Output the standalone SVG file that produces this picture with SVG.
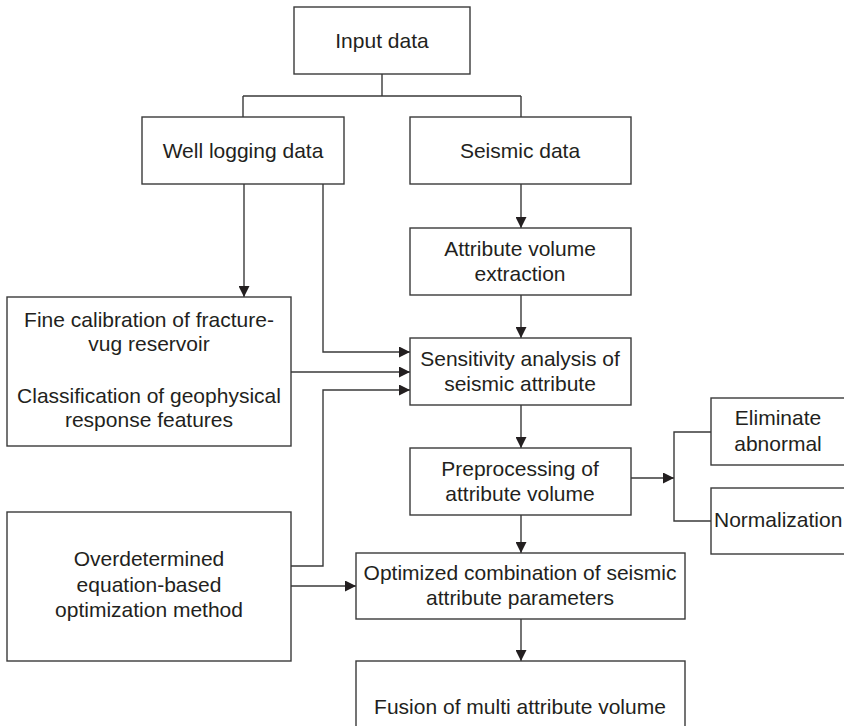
<svg xmlns="http://www.w3.org/2000/svg" width="844" height="726" viewBox="0 0 844 726">
  <style>
    .box { fill: #ffffff; stroke: #3a3a3a; stroke-width: 1.4; }
    .lbl { font-family: "Liberation Sans", Arial, sans-serif; font-size: 21px; fill: #231f20; text-anchor: middle; }
    .lbl-start { text-anchor: start; }
    .wire { fill: none; stroke: #3a3a3a; stroke-width: 1.4; }
    .arrow { marker-end: url(#head); }
  </style>
  <defs>
    <marker id="head" markerUnits="userSpaceOnUse" markerWidth="11" markerHeight="11" refX="11" refY="5.5" orient="auto">
      <path d="M0,0 L11,5.5 L0,11 Z" fill="#231f20"/>
    </marker>
  </defs>
  <rect width="844" height="726" fill="#ffffff"/>

  <g id="connectors">
    <!-- input split to the two data sources -->
    <path class="wire" d="M382,74 V96 M243,96 H521 M243,96 V117 M521,96 V117"/>
    <!-- seismic chain -->
    <path class="wire arrow" d="M521,184 V228"/>
    <path class="wire arrow" d="M521,295 V338"/>
    <path class="wire arrow" d="M521,405 V448"/>
    <path class="wire arrow" d="M521,515 V553"/>
    <path class="wire arrow" d="M521,619 V661"/>
    <!-- well logging branches -->
    <path class="wire arrow" d="M244,184 V297"/>
    <path class="wire arrow" d="M323,184 V352 H410"/>
    <path class="wire arrow" d="M291,372 H410"/>
    <path class="wire arrow" d="M291,566 H323 V390 H410"/>
    <path class="wire arrow" d="M291,586 H356"/>
    <!-- preprocessing options -->
    <path class="wire arrow" d="M631,478 H674"/>
    <path class="wire" d="M711,432 H674 V521 H711"/>
  </g>

  <g id="input-data">
    <rect class="box" x="294" y="7" width="176" height="67"/>
    <text class="lbl" x="382" y="48">Input data</text>
  </g>
  <g id="well-logging-data">
    <rect class="box" x="142" y="117" width="202" height="67"/>
    <text class="lbl" x="243" y="158">Well logging data</text>
  </g>
  <g id="seismic-data">
    <rect class="box" x="410" y="117" width="221" height="67"/>
    <text class="lbl" x="520" y="158">Seismic data</text>
  </g>
  <g id="attribute-extraction">
    <rect class="box" x="410" y="228" width="221" height="67"/>
    <text class="lbl" x="520" y="256">Attribute volume</text>
    <text class="lbl" x="520" y="281">extraction</text>
  </g>
  <g id="sensitivity-analysis">
    <rect class="box" x="410" y="338" width="221" height="67"/>
    <text class="lbl" x="520" y="366">Sensitivity analysis of</text>
    <text class="lbl" x="520" y="391">seismic attribute</text>
  </g>
  <g id="fine-calibration">
    <rect class="box" x="7" y="297" width="284" height="149"/>
    <text class="lbl" x="149" y="327">Fine calibration of fracture-</text>
    <text class="lbl" x="149" y="351">vug reservoir</text>
    <text class="lbl" x="149" y="403">Classification of geophysical</text>
    <text class="lbl" x="149" y="427">response features</text>
  </g>
  <g id="preprocessing">
    <rect class="box" x="410" y="448" width="221" height="67"/>
    <text class="lbl" x="520" y="476">Preprocessing of</text>
    <text class="lbl" x="520" y="501">attribute volume</text>
  </g>
  <g id="eliminate-abnormal">
    <rect class="box" x="711" y="398" width="140" height="67"/>
    <text class="lbl" x="778" y="425">Eliminate</text>
    <text class="lbl" x="778" y="451">abnormal</text>
  </g>
  <g id="normalization">
    <rect class="box" x="711" y="488" width="140" height="66"/>
    <text class="lbl lbl-start" x="714" y="527">Normalization</text>
  </g>
  <g id="overdetermined-method">
    <rect class="box" x="7" y="512" width="284" height="149"/>
    <text class="lbl" x="149" y="566">Overdetermined</text>
    <text class="lbl" x="149" y="592">equation-based</text>
    <text class="lbl" x="149" y="617">optimization method</text>
  </g>
  <g id="optimized-combination">
    <rect class="box" x="356" y="553" width="329" height="66"/>
    <text class="lbl" x="520" y="580">Optimized combination of seismic</text>
    <text class="lbl" x="520" y="605">attribute parameters</text>
  </g>
  <g id="fusion">
    <rect class="box" x="356" y="661" width="329" height="80"/>
    <text class="lbl" x="520" y="714">Fusion of multi attribute volume</text>
  </g>
</svg>
